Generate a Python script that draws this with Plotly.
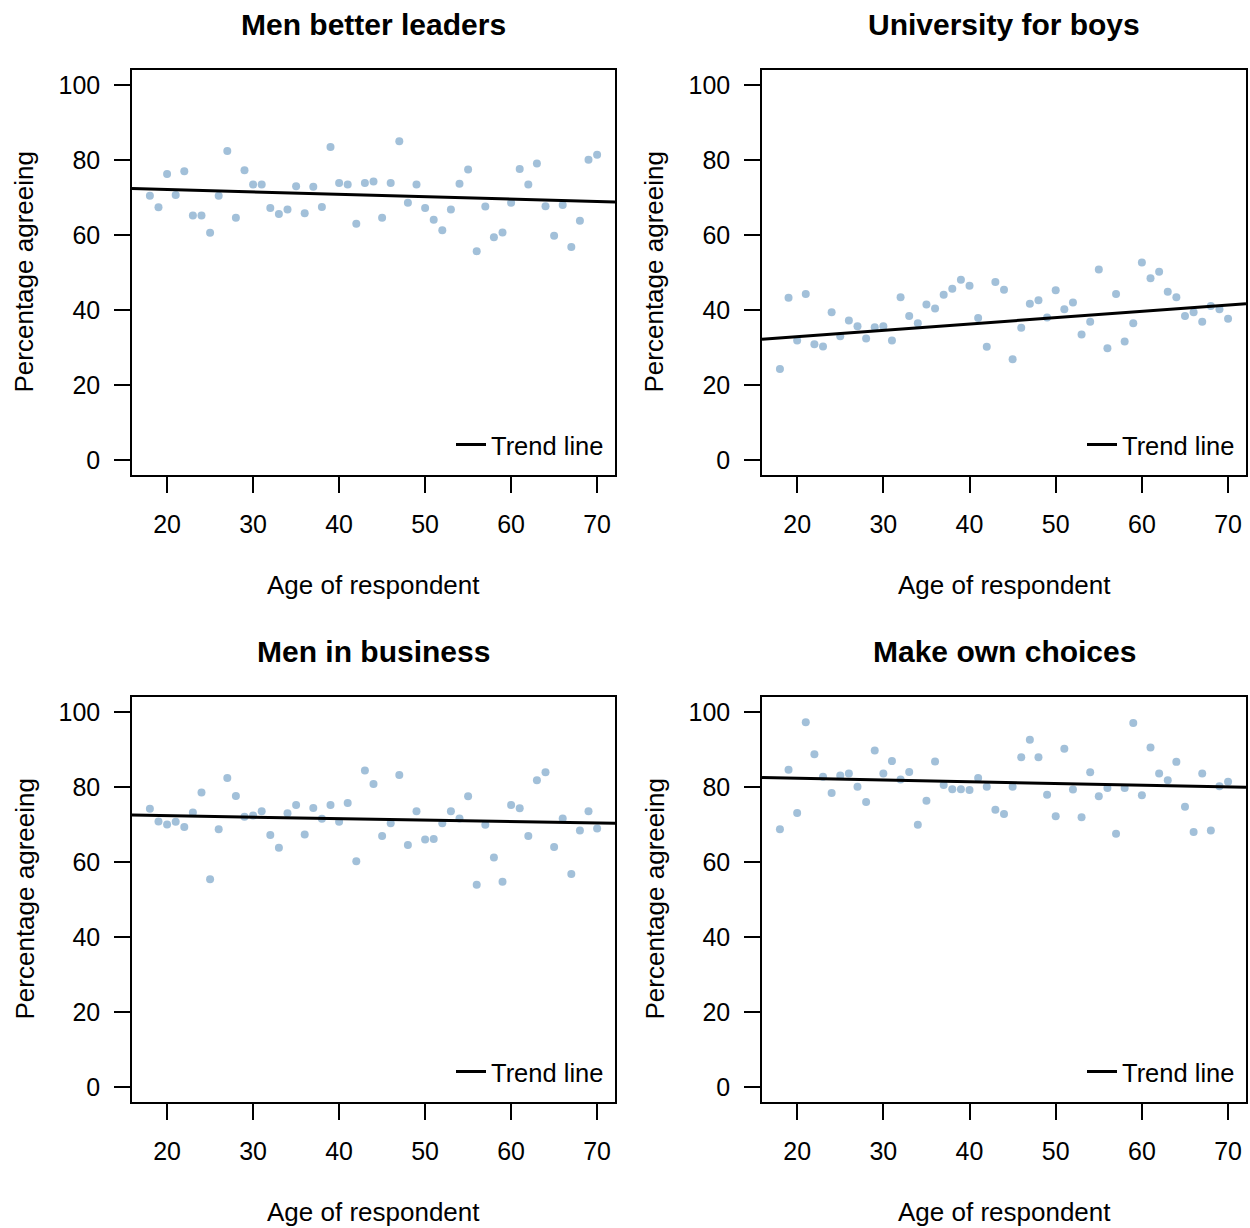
import numpy as np
import plotly.graph_objects as go

ages = list(range(18, 71))

men_better_leaders = [70.5, 67.4, 76.3, 70.7, 77.0, 65.2, 65.2, 60.6, 70.5, 82.4,
                      64.6, 77.3, 73.5, 73.5, 67.2, 65.6, 66.8, 73.0, 65.8, 72.9,
                      67.5, 83.5, 73.9, 73.5, 63.0, 73.9, 74.3, 64.6, 73.9, 85.0,
                      68.6, 73.5, 67.2, 64.1, 61.3, 66.8, 73.7, 77.5, 55.7, 67.6,
                      59.4, 60.7, 68.6, 77.6, 73.5, 79.1, 67.7, 59.8, 68.0, 56.8,
                      63.8, 80.1, 81.4]

university_for_boys = [24.3, 43.3, 31.9, 44.3, 30.9, 30.3, 39.4, 33.0, 37.2, 35.7,
                       32.4, 35.4, 35.7, 31.9, 43.4, 38.4, 36.5, 41.5, 40.4, 44.1,
                       45.7, 48.1, 46.5, 37.9, 30.2, 47.5, 45.4, 26.9, 35.3, 41.7,
                       42.6, 38.0, 45.3, 40.2, 42.0, 33.5, 36.9, 50.8, 29.8, 44.3,
                       31.6, 36.5, 52.7, 48.5, 50.2, 44.9, 43.4, 38.4, 39.4, 36.9,
                       41.1, 40.2, 37.7]

men_in_business = [74.2, 70.8, 70.0, 70.7, 69.3, 73.2, 78.5, 55.4, 68.7, 82.4,
                   77.6, 72.1, 72.4, 73.5, 67.2, 63.8, 73.0, 75.2, 67.3, 74.4,
                   71.5, 75.2, 70.7, 75.7, 60.2, 84.4, 80.8, 66.9, 70.3, 83.2,
                   64.5, 73.5, 66.0, 66.1, 70.3, 73.5, 71.6, 77.5, 53.9, 69.9,
                   61.2, 54.7, 75.2, 74.3, 66.9, 81.8, 83.9, 64.0, 71.6, 56.8,
                   68.4, 73.5, 68.9]

make_own_choices = [68.7, 84.6, 73.1, 97.3, 88.7, 82.7, 78.4, 83.1, 83.6, 80.1,
                    76.0, 89.7, 83.6, 86.9, 82.0, 84.0, 69.9, 76.3, 86.8, 80.5,
                    79.4, 79.4, 79.2, 82.4, 80.1, 73.9, 72.8, 80.1, 87.9, 92.6,
                    87.9, 77.9, 72.2, 90.2, 79.3, 71.9, 83.9, 77.5, 79.7, 67.5,
                    79.7, 97.1, 77.8, 90.5, 83.6, 81.8, 86.7, 74.7, 68.0, 83.6,
                    68.4, 80.2, 81.4]

# trend line values at the left and right edges of the x range
trend_left = [72.4, 32.2, 72.5, 82.5]
trend_right = [68.8, 41.7, 70.3, 79.9]

titles = ["Men better leaders", "University for boys", "Men in business", "Make own choices"]
series = [men_better_leaders, university_for_boys, men_in_business, make_own_choices]

x_ticks = [20, 30, 40, 50, 60, 70]
y_ticks = [0, 20, 40, 60, 80, 100]

W, H = 1250, 1228
FONT = "Liberation Sans, Arial, Helvetica, sans-serif"
POINT_COLOR = "rgba(70,130,180,0.5)"

# R-style axis ranges (4% extension)
xr = (max(ages) - min(ages)) * 0.04
x_range = [min(ages) - xr, max(ages) + xr]
y_range = [-4, 104]

# panel pixel boxes: (left, right, top, bottom)
boxes = [(132, 615, 70, 475), (762, 1246, 70, 475),
         (132, 615, 697, 1102), (762, 1246, 697, 1102)]

fig = go.Figure()
annotations = []
layout_axes = {}

for i, (title, vals, box) in enumerate(zip(titles, series, boxes)):
    n = i + 1
    xa = "x" if n == 1 else f"x{n}"
    ya = "y" if n == 1 else f"y{n}"
    xkey = "xaxis" if n == 1 else f"xaxis{n}"
    ykey = "yaxis" if n == 1 else f"yaxis{n}"
    lgkey = "legend" if n == 1 else f"legend{n}"
    left, right, top, bottom = box

    fig.add_trace(go.Scatter(
        x=ages, y=vals, mode="markers", xaxis=xa, yaxis=ya,
        marker=dict(size=8, color=POINT_COLOR, line=dict(width=0)),
        showlegend=False, hoverinfo="x+y"))

    fig.add_trace(go.Scatter(
        x=x_range, y=[trend_left[i], trend_right[i]], mode="lines",
        xaxis=xa, yaxis=ya,
        line=dict(color="black", width=3), name="Trend line",
        showlegend=True, legend=lgkey))

    layout_axes[xkey] = dict(
        domain=[left / W, right / W], anchor=ya, range=x_range,
        tickmode="array", tickvals=x_ticks, ticks="outside", ticklen=16,
        tickwidth=1.5, tickcolor="black", showline=True, linecolor="black",
        linewidth=1.5, mirror=True, showgrid=False, zeroline=False,
        tickfont=dict(size=25, color="black", family=FONT),
        ticklabelstandoff=10)
    layout_axes[ykey] = dict(
        domain=[1 - bottom / H, 1 - top / H], anchor=xa, range=y_range,
        tickmode="array", tickvals=y_ticks, ticks="outside", ticklen=16,
        tickwidth=1.5, tickcolor="black", showline=True, linecolor="black",
        linewidth=1.5, mirror=True, showgrid=False, zeroline=False,
        tickfont=dict(size=25, color="black", family=FONT),
        ticklabelstandoff=9)
    layout_axes[lgkey] = dict(
        x=(right - 6) / W, xanchor="right", y=1 - (bottom - 30) / H,
        yanchor="middle", bgcolor="rgba(0,0,0,0)", borderwidth=0,
        font=dict(size=25.5, color="black", family=FONT))

    cx = (left + right) / 2 / W
    annotations.append(dict(
        text=f"<b>{title}</b>", x=cx, y=1 - (top - 46) / H, xref="paper",
        yref="paper", xanchor="center", yanchor="middle", showarrow=False,
        font=dict(size=30, color="black", family=FONT)))
    annotations.append(dict(
        text="Age of respondent", x=cx, y=1 - (bottom + 110) / H, xref="paper",
        yref="paper", xanchor="center", yanchor="middle", showarrow=False,
        font=dict(size=26, color="black", family=FONT)))
    annotations.append(dict(
        text="Percentage agreeing", x=(left - 108) / W,
        y=1 - (top + bottom) / 2 / H, xref="paper", yref="paper",
        xanchor="center", yanchor="middle", textangle=-90, showarrow=False,
        font=dict(size=26, color="black", family=FONT)))

fig.update_layout(
    width=W, height=H, margin=dict(l=0, r=0, t=0, b=0),
    paper_bgcolor="white", plot_bgcolor="white",
    font=dict(family=FONT, color="black"),
    annotations=annotations, **layout_axes)

fig.write_html("out.html", config={"displayModeBar": False},
               post_script="document.body.style.margin='0';document.body.style.padding='0';")
